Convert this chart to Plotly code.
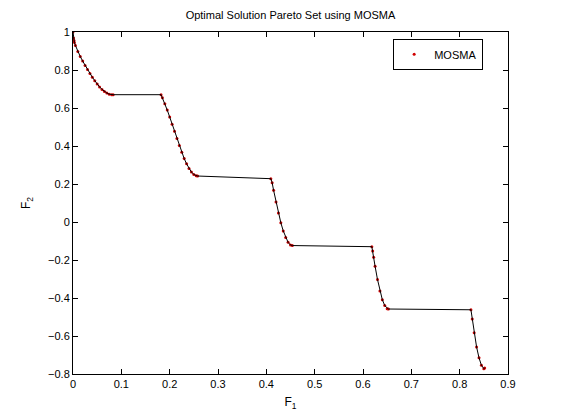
import plotly.graph_objects as go

# points, sorted by F1
f1 = [0.0, 0.001, 0.002, 0.003, 0.005, 0.01, 0.015, 0.02, 0.025, 0.03, 0.035,
      0.04, 0.045, 0.05, 0.055, 0.06, 0.065, 0.07, 0.075, 0.08, 0.083,
      0.1822, 0.185, 0.19, 0.195, 0.20, 0.205, 0.21, 0.215, 0.22, 0.225,
      0.23, 0.235, 0.24, 0.245, 0.25, 0.255, 0.2577,
      0.4093, 0.412, 0.415, 0.42, 0.425, 0.43, 0.435, 0.44, 0.445, 0.45, 0.4538,
      0.6183, 0.62, 0.622, 0.625, 0.63, 0.635, 0.64, 0.645, 0.65, 0.6525,
      0.8233, 0.826, 0.83, 0.835, 0.84, 0.845, 0.85, 0.8518]
f2 = [1.0, 0.968, 0.955, 0.945, 0.929, 0.897, 0.871, 0.847, 0.824, 0.803, 0.782,
      0.762, 0.744, 0.726, 0.711, 0.698, 0.687, 0.679, 0.673, 0.670, 0.670,
      0.670, 0.654, 0.623, 0.589, 0.553, 0.515, 0.477, 0.439, 0.402, 0.367,
      0.334, 0.306, 0.282, 0.263, 0.250, 0.243, 0.242,
      0.228, 0.207, 0.167, 0.105, 0.048, -0.004, -0.047, -0.082, -0.107, -0.121, -0.124,
      -0.130, -0.152, -0.185, -0.233, -0.303, -0.363, -0.409, -0.440, -0.456, -0.458,
      -0.462, -0.511, -0.583, -0.658, -0.715, -0.754, -0.772, -0.769]

x_ticks = [0, 0.1, 0.2, 0.3, 0.4, 0.5, 0.6, 0.7, 0.8, 0.9]
y_ticks = [-0.8, -0.6, -0.4, -0.2, 0, 0.2, 0.4, 0.6, 0.8, 1]

font = "Liberation Sans, Arial, sans-serif"

fig = go.Figure()
fig.add_trace(go.Scatter(x=f1, y=f2, mode="markers", name="MOSMA",
                         marker=dict(color="#d00000", size=3)))
fig.add_trace(go.Scatter(x=f1, y=f2, mode="lines", showlegend=False,
                         line=dict(color="black", width=1)))

axis = dict(showline=True, mirror="ticks", linecolor="black", linewidth=1,
            ticks="inside", ticklen=5, tickcolor="black", showgrid=False,
            zeroline=False, automargin=False,
            tickfont=dict(size=11, color="black", family=font))

# page body adds ~8px around the figure, so the figure is sized to fit the window
fig.update_layout(
    width=553, height=412,
    margin=dict(l=65, r=53, t=24, b=46),
    paper_bgcolor="white", plot_bgcolor="white",
    font=dict(family=font, size=11, color="black"),
    title=dict(text="Optimal Solution Pareto Set using MOSMA", x=0.5, xanchor="center",
               xref="paper", y=0.982, yanchor="middle", font=dict(size=11)),
    xaxis=dict(axis, range=[0, 0.9], tickvals=x_ticks,
               title=dict(text="F<sub>1</sub>", standoff=8, font=dict(size=12))),
    yaxis=dict(axis, range=[-0.8, 1], tickvals=y_ticks,
               title=dict(text="F<sub>2</sub>", standoff=14, font=dict(size=12))),
    legend=dict(x=0.736, y=0.98, xanchor="left", yanchor="top",
                bordercolor="black", borderwidth=1, bgcolor="white",
                font=dict(size=11), tracegroupgap=0),
)

fig.write_html("out.html")
